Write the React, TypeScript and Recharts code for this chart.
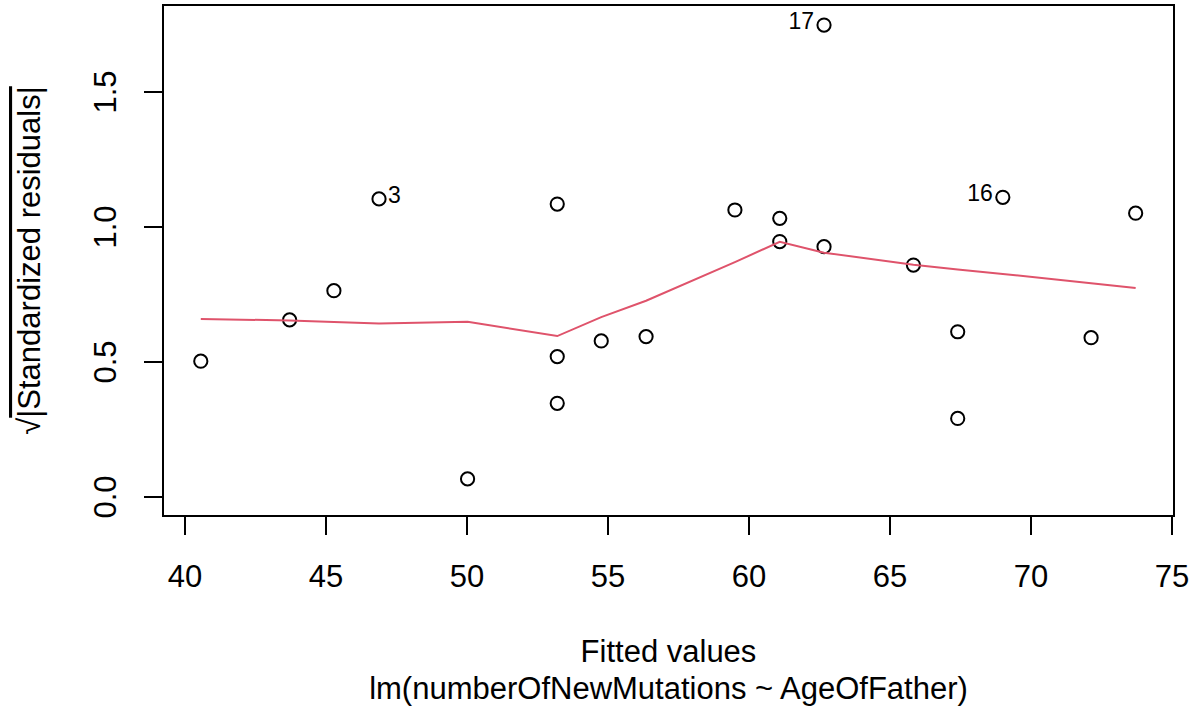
import React from "react";
import {
  ComposedChart,
  Scatter,
  XAxis,
  YAxis,
  ReferenceArea,
} from "recharts";

// fitted values and sqrt(|standardized residuals|) for each observation
const fittedValues = [
  40.56, 43.71, 45.28, 46.88, 50.02, 53.2, 53.2, 53.2, 54.76, 56.35, 59.5,
  61.09, 61.09, 62.66, 62.66, 65.83, 67.4, 67.4, 69.0, 72.13, 73.71,
];
const sqrtStdResiduals = [
  0.503, 0.656, 0.764, 1.104, 0.067, 1.085, 0.52, 0.347, 0.578, 0.594, 1.063,
  1.032, 0.946, 1.748, 0.927, 0.859, 0.612, 0.291, 1.11, 0.59, 1.051,
];
const pointLabels = [
  "", "", "", "3", "", "", "", "", "", "", "", "", "", "17", "", "", "", "",
  "16", "", "",
];

// smoother through the points
const smoothX = [
  40.56, 43.71, 45.28, 46.88, 50.02, 53.2, 54.76, 56.35, 59.5, 61.09, 62.66,
  65.83, 67.4, 69.0, 72.13, 73.71,
];
const smoothY = [
  0.659, 0.654, 0.648, 0.643, 0.649, 0.596, 0.666, 0.727, 0.87, 0.945, 0.905,
  0.86, 0.843, 0.826, 0.792, 0.774,
];

const xTicks = [40, 45, 50, 55, 60, 65, 70, 75];
const yTicks = [0, 0.5, 1, 1.5];
const xDomain: [number, number] = [39.22, 75.07];
const yDomain: [number, number] = [-0.0704, 1.8222];

const FONT = "'Liberation Sans', Arial, Helvetica, sans-serif";
const RED = "#DF536B";

const points = fittedValues.map((x, i) => ({
  x,
  y: sqrtStdResiduals[i],
  label: pointLabels[i],
}));
const smooth = smoothX.map((x, i) => ({ x, y: smoothY[i] }));
const xMid = (xDomain[0] + xDomain[1]) / 2;

const PointShape = (props: any) => {
  const { cx, cy, payload } = props;
  const onRight = payload.x < xMid;
  return (
    <g>
      <circle cx={cx} cy={cy} r={6.6} fill="none" stroke="#000" strokeWidth={2} />
      {payload.label ? (
        <text
          x={onRight ? cx + 9 : cx - 10}
          y={cy + 4}
          textAnchor={onRight ? "start" : "end"}
          fontFamily={FONT}
          fontSize={23}
          fill="#000"
        >
          {payload.label}
        </text>
      ) : null}
    </g>
  );
};

const XTick = (props: any) => {
  const { x, y, payload } = props;
  return (
    <text x={x} y={y + 50} textAnchor="middle" fontFamily={FONT} fontSize={31} fill="#000">
      {payload.value}
    </text>
  );
};

const YTick = (props: any) => {
  const { x, y, payload } = props;
  const bx = x - 26;
  return (
    <text
      x={bx}
      y={y}
      transform={`rotate(-90, ${bx}, ${y})`}
      textAnchor="middle"
      fontFamily={FONT}
      fontSize={31}
      fill="#000"
    >
      {Number(payload.value).toFixed(1)}
    </text>
  );
};

const XTitle = (props: any) => {
  const { x, y, width } = props.viewBox;
  const cx = x + width / 2;
  return (
    <g fontFamily={FONT} fontSize={31} fill="#000">
      <text x={cx} y={y + 146} textAnchor="middle">
        Fitted values
      </text>
      <text x={cx} y={y + 183} textAnchor="middle">
        lm(numberOfNewMutations ~ AgeOfFather)
      </text>
    </g>
  );
};

const YTitle = (props: any) => {
  const { y, height } = props.viewBox;
  const cy = y + height / 2;
  const bx = 40;
  return (
    <text
      x={bx}
      y={cy}
      transform={`rotate(-90, ${bx}, ${cy})`}
      textAnchor="middle"
      fontFamily={FONT}
      fontSize={31}
      fill="#000"
    >
      √<tspan style={{ textDecoration: "overline" }}>|Standardized residuals|</tspan>
    </text>
  );
};

export default function App() {
  return (
    <div style={{ position: "absolute", left: 0, top: 0, background: "#fff" }}>
      <ComposedChart
        width={1193}
        height={719}
        margin={{ top: 5, right: 19, left: 0, bottom: 0 }}
      >
        <XAxis
          type="number"
          dataKey="x"
          domain={xDomain}
          ticks={xTicks}
          allowDataOverflow
          height={203}
          axisLine={false}
          tickLine={{ stroke: "#000", strokeWidth: 2 }}
          tickSize={19}
          tickMargin={2}
          tick={<XTick />}
          interval={0}
          label={{ content: <XTitle /> }}
        />
        <YAxis
          type="number"
          dataKey="y"
          domain={yDomain}
          ticks={yTicks}
          allowDataOverflow
          width={163}
          axisLine={false}
          tickLine={{ stroke: "#000", strokeWidth: 2 }}
          tickSize={19}
          tickMargin={2}
          tick={<YTick />}
          interval={0}
          label={{ content: <YTitle /> }}
        />
        <Scatter data={points} shape={<PointShape />} isAnimationActive={false} />
        <Scatter
          data={smooth}
          line={{ stroke: RED, strokeWidth: 2 }}
          lineType="joint"
          shape={() => <g />}
          isAnimationActive={false}
        />
        <ReferenceArea
          x1={xDomain[0]}
          x2={xDomain[1]}
          y1={yDomain[0]}
          y2={yDomain[1]}
          fill="none"
          fillOpacity={0}
          stroke="#000"
          strokeWidth={2}
          ifOverflow="visible"
        />
      </ComposedChart>
    </div>
  );
}
